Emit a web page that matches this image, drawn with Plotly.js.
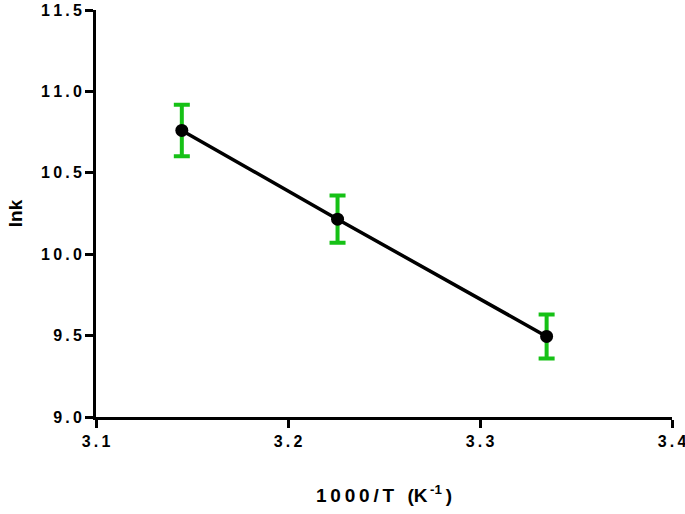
<!DOCTYPE html>
<html>
<head>
<meta charset="utf-8">
<script src="https://cdn.plot.ly/plotly-3.0.1.min.js"></script>
<style>html,body{margin:0;padding:0;background:#fff;}</style>
</head>
<body>
<div id="chart" style="width:685px;height:514px;"></div>
<script>
const invT = [3.1447, 3.2258, 3.3347];
const lnk = [10.76, 10.215, 9.495];
const err = [0.158, 0.145, 0.135];
const xTicks = [3.1, 3.2, 3.3, 3.4];
const yTicks = [9.0, 9.5, 10.0, 10.5, 11.0, 11.5];

const sp = s => '<b>' + s.split('').join('\u2009') + '</b>';
const trace = {
  x: invT, y: lnk, type: 'scatter', mode: 'lines+markers',
  line: {color: '#000', width: 3.5},
  marker: {color: '#000', size: 13},
  error_y: {type: 'data', array: err, visible: true, color: '#16c116', thickness: 4, width: 8},
  showlegend: false
};
const fnt = {family: 'Liberation Sans, Arial, sans-serif', size: 16, color: '#000'};
const tfnt = {family: 'Liberation Sans, Arial, sans-serif', size: 19, color: '#000'};
const layout = {
  width: 685, height: 514,
  margin: {l: 96, r: 13, t: 10, b: 97},
  paper_bgcolor: '#fff', plot_bgcolor: '#fff',
  xaxis: {
    range: [3.1, 3.4], tickvals: xTicks, ticktext: xTicks.map(v => sp(v.toFixed(1))),
    showgrid: false, zeroline: false, showline: true, linecolor: '#000', linewidth: 3,
    ticks: 'outside', ticklen: 8, tickwidth: 3, tickcolor: '#000',
    tickfont: fnt, ticklabeloverflow: 'allow',
    title: {text: '<b>' + sp('1000/T') + '\u2002\u2009(K<sup>\u2009-1</sup>\u2009)</b>', font: tfnt, standoff: 40}
  },
  yaxis: {
    range: [9.0, 11.5], tickvals: yTicks, ticktext: yTicks.map(v => sp(v.toFixed(1))),
    showgrid: false, zeroline: false, showline: true, linecolor: '#000', linewidth: 3,
    ticks: 'outside', ticklen: 8, tickwidth: 3, tickcolor: '#000',
    tickfont: fnt, ticklabeloverflow: 'allow',
    title: {text: '<b>lnk</b>', font: tfnt, standoff: 14}
  }
};
Plotly.newPlot('chart', [trace], layout, {displayModeBar: false, staticPlot: true});
</script>
</body>
</html>
